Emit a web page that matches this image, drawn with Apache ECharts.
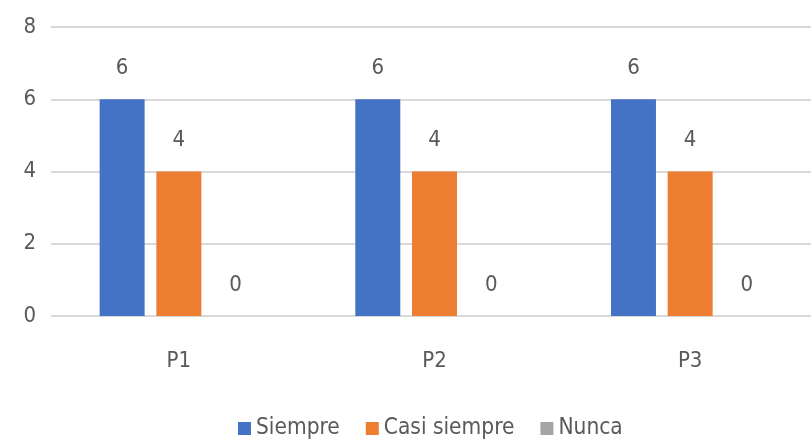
<!DOCTYPE html>
<html>
<head>
<meta charset="utf-8">
<script src="https://cdn.jsdelivr.net/npm/echarts@6/dist/echarts.min.js"></script>
<style>html,body{margin:0;padding:0;background:#fff;overflow:hidden;width:811px;height:440px;}#c{width:818px;height:440px;}</style>
</head>
<body>
<div id="c"></div>
<script>
const categories = ['P1', 'P2', 'P3'];
const siempre = [6, 6, 6];
const casiSiempre = [4, 4, 4];
const nunca = [0, 0, 0];
const yTicks = [0, 2, 4, 6, 8];

const FONT = "'Liberation Sans Narrow', 'DejaVu Sans Condensed', sans-serif";
const TXT = '#595959';
const chart = echarts.init(document.getElementById('c'));
const lbl = { show: true, position: 'top', distance: 20, color: TXT, fontSize: 22, fontFamily: FONT };
chart.setOption({
  animation: false,
  grid: { left: 51, top: 27, right: 0, bottom: 124, containLabel: false },
  legend: {
    top: 412, left: 233, itemWidth: 13, itemHeight: 13, itemGap: 26,
    icon: 'rect',
    textStyle: { color: TXT, fontSize: 22.5, fontFamily: FONT, padding: [0, 0, 0, 0] },
    data: ['Siempre', 'Casi siempre', 'Nunca']
  },
  xAxis: {
    type: 'category', data: categories,
    axisLine: { show: false }, axisTick: { show: false },
    axisLabel: { color: TXT, fontSize: 22, fontFamily: FONT, margin: 34 }
  },
  yAxis: {
    type: 'value', min: yTicks[0], max: yTicks[yTicks.length - 1], interval: 2,
    axisLine: { show: false }, axisTick: { show: false },
    axisLabel: { color: TXT, fontSize: 22, fontFamily: FONT, margin: 15 },
    splitLine: { lineStyle: { color: '#d9d9d9', width: 2 } }
  },
  series: [
    { name: 'Siempre', type: 'bar', data: siempre, barWidth: 45, barGap: '26%', itemStyle: { color: '#4472C4' }, label: lbl },
    { name: 'Casi siempre', type: 'bar', data: casiSiempre, barWidth: 45, barGap: '26%', itemStyle: { color: '#ED7D31' }, label: lbl },
    { name: 'Nunca', type: 'bar', data: nunca, barWidth: 45, barGap: '26%', itemStyle: { color: '#A5A5A5' }, label: lbl }
  ]
});
</script>
</body>
</html>
